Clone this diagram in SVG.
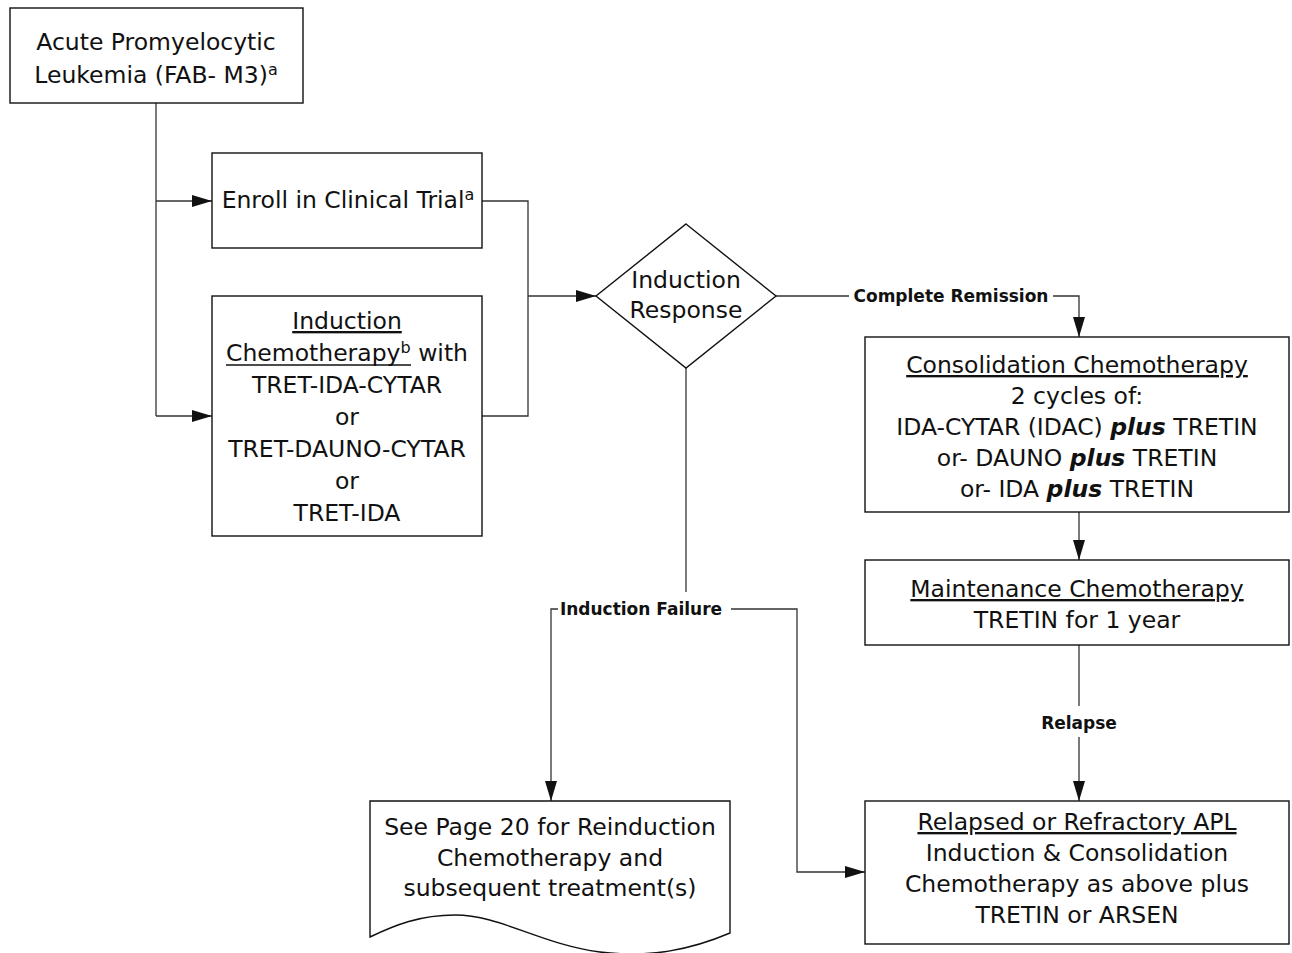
<svg xmlns="http://www.w3.org/2000/svg" width="1292" height="953" viewBox="0 0 1292 953">
<style>
.box{fill:#fff;stroke:#111;stroke-width:1.4}
.ln{fill:none;stroke:#333;stroke-width:1.3}
.ul{stroke:#111;stroke-width:1.3}
.t{font-family:"DejaVu Sans","Liberation Sans",sans-serif;font-size:23.5px;fill:#111;text-anchor:middle}
.lb{font-family:"DejaVu Sans","Liberation Sans",sans-serif;font-size:17px;font-weight:bold;fill:#111;text-anchor:middle}
.u{text-decoration:underline}
.bi{font-weight:bold;font-style:italic}
.sup{font-size:16px}
</style>
<defs>
<marker id="ah" markerUnits="userSpaceOnUse" markerWidth="20" markerHeight="12" refX="20" refY="6" orient="auto">
<path d="M0,0 L20,6 L0,12 Z" fill="#111"/>
</marker>
</defs>
<rect width="1292" height="953" fill="#fff"/>
<g id="connectors">
<path class="ln" d="M156,103 V416"/>
<path class="ln" d="M156,201 H212" marker-end="url(#ah)"/>
<path class="ln" d="M156,416 H212" marker-end="url(#ah)"/>
<path class="ln" d="M482,201 H528 V416 H482"/>
<path class="ln" d="M528,296 H596" marker-end="url(#ah)"/>
<path class="ln" d="M776,296 H849"/>
<path class="ln" d="M1053,296 H1079 V337" marker-end="url(#ah)"/>
<path class="ln" d="M1079,512 V560" marker-end="url(#ah)"/>
<path class="ln" d="M1079,645 V706"/>
<path class="ln" d="M1079,737 V801" marker-end="url(#ah)"/>
<path class="ln" d="M686,368 V592"/>
<path class="ln" d="M558,609 H551 V801" marker-end="url(#ah)"/>
<path class="ln" d="M731,609 H797 V872 H865" marker-end="url(#ah)"/>
<text class="lb" x="951" y="302">Complete Remission</text>
<text class="lb" x="641" y="615">Induction Failure</text>
<text class="lb" x="1079" y="729">Relapse</text>
</g>
<g id="apl">
<rect class="box" x="10" y="8" width="293" height="95"/>
<text class="t" x="156" y="50">Acute Promyelocytic</text>
<text class="t" x="156" y="83">Leukemia (FAB- M3)<tspan class="sup" dy="-8">a</tspan></text>
</g>
<g id="enroll">
<rect class="box" x="212" y="153" width="270" height="95"/>
<text class="t" x="348" y="208">Enroll in Clinical Trial<tspan class="sup" dy="-8">a</tspan></text>
</g>
<g id="induction">
<rect class="box" x="212" y="296" width="270" height="240"/>
<text class="t" x="347" y="329"><tspan class="u">Induction</tspan></text>
<text class="t" x="347" y="361">Chemotherapy<tspan class="sup" dy="-8">b</tspan><tspan dy="8"> with</tspan></text>
<line class="ul" x1="226" y1="365" x2="411" y2="365"/>
<text class="t" x="347" y="393">TRET-IDA-CYTAR</text>
<text class="t" x="347" y="425">or</text>
<text class="t" x="347" y="457">TRET-DAUNO-CYTAR</text>
<text class="t" x="347" y="489">or</text>
<text class="t" x="347" y="521">TRET-IDA</text>
</g>
<g id="response">
<polygon class="box" points="686,224 776,296 686,368 596,296"/>
<text class="t" x="686" y="288">Induction</text>
<text class="t" x="686" y="318">Response</text>
</g>
<g id="consolidation">
<rect class="box" x="865" y="337" width="424" height="175"/>
<text class="t" x="1077" y="373"><tspan class="u">Consolidation Chemotherapy</tspan></text>
<text class="t" x="1077" y="404">2 cycles of:</text>
<text class="t" x="1077" y="435">IDA-CYTAR (IDAC) <tspan class="bi">plus</tspan> TRETIN</text>
<text class="t" x="1077" y="466">or- DAUNO <tspan class="bi">plus</tspan> TRETIN</text>
<text class="t" x="1077" y="497">or- IDA <tspan class="bi">plus</tspan> TRETIN</text>
</g>
<g id="maintenance">
<rect class="box" x="865" y="560" width="424" height="85"/>
<text class="t" x="1077" y="597"><tspan class="u">Maintenance Chemotherapy</tspan></text>
<text class="t" x="1077" y="628">TRETIN for 1 year</text>
</g>
<g id="reinduction">
<path class="box" d="M370,801 H730 V933 C690,950 650,958 600,952 C540,944 500,915 455,915 C420,915 395,925 370,937 Z"/>
<text class="t" x="550" y="835">See Page 20 for Reinduction</text>
<text class="t" x="550" y="866">Chemotherapy and</text>
<text class="t" x="550" y="896">subsequent treatment(s)</text>
</g>
<g id="relapsed">
<rect class="box" x="865" y="801" width="424" height="143"/>
<text class="t" x="1077" y="830"><tspan class="u">Relapsed or Refractory APL</tspan></text>
<text class="t" x="1077" y="861">Induction &amp; Consolidation</text>
<text class="t" x="1077" y="892">Chemotherapy as above plus</text>
<text class="t" x="1077" y="923">TRETIN or ARSEN</text>
</g>
</svg>
